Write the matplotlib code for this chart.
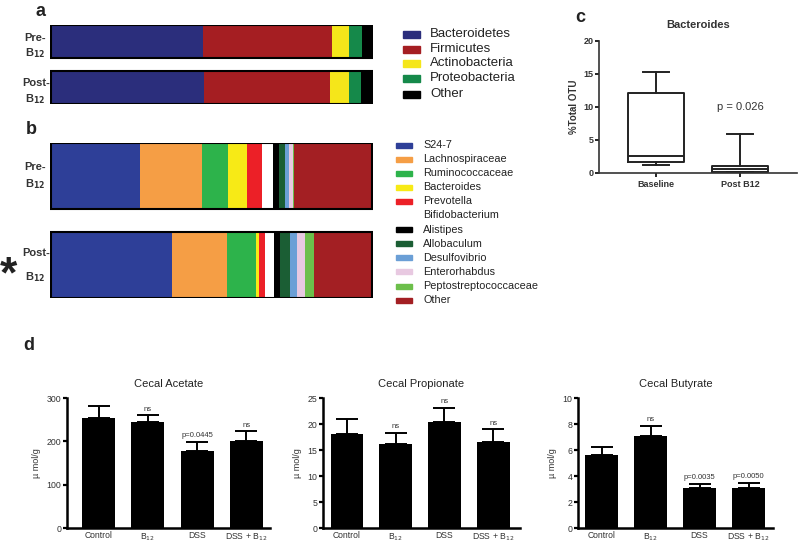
import matplotlib
matplotlib.use("Agg")
import matplotlib.pyplot as plt
from matplotlib.patches import Rectangle

plt.rcParams['font.family'] = ['Liberation Sans', 'DejaVu Sans']

# ---------------- data ----------------
phyla = ["Bacteroidetes", "Firmicutes", "Actinobacteria", "Proteobacteria", "Other"]
phyla_colors = ["#2b2e7c", "#a51e22", "#f5e61a", "#15894a", "#000000"]
phyla_pre = [47.4, 40.2, 5.0, 4.3, 3.1]
phyla_post = [47.7, 39.0, 5.9, 4.0, 3.4]

genera = ["S24-7", "Lachnospiraceae", "Ruminococcaceae", "Bacteroides", "Prevotella",
          "Bifidobacterium", "Alistipes", "Allobaculum", "Desulfovibrio", "Enterorhabdus",
          "Peptostreptococcaceae", "Other"]
genera_colors = ["#2e3f98", "#f59e45", "#2db34b", "#f7ea16", "#ec2027", "#ffffff",
                 "#000000", "#1b5e34", "#6b9fd6", "#e8c9e1", "#6cbf4b", "#a31f23"]
genera_pre = [27.9, 19.2, 8.0, 5.9, 4.6, 3.4, 1.9, 1.8, 1.3, 1.2, 0.4, 24.4]
genera_post = [37.8, 17.0, 8.9, 1.0, 1.8, 2.9, 1.8, 3.1, 2.4, 2.5, 2.6, 18.2]

box_groups = ["Baseline", "Post B12"]
box_stats = [
    dict(whislo=1.2, q1=1.6, med=2.5, q3=12.1, whishi=15.3),
    dict(whislo=0.1, q1=0.2, med=0.6, q3=1.1, whishi=5.9),
]
box_p = "p = 0.026"

groups = ["Control", "B$_{12}$", "DSS", "DSS + B$_{12}$"]
acetate = [253, 245, 177, 200]
acetate_err = [29, 15, 22, 23]
acetate_ann = ["", "ns", "p=0.0445", "ns"]
propionate = [18.0, 16.2, 20.3, 16.5]
propionate_err = [3.0, 2.1, 2.8, 2.5]
propionate_ann = ["", "ns", "ns", "ns"]
butyrate = [5.6, 7.1, 3.05, 3.05]
butyrate_err = [0.6, 0.75, 0.35, 0.45]
butyrate_ann = ["", "ns", "p=0.0035", "p=0.0050"]

W, H = 800, 544
fig = plt.figure(figsize=(8, 5.44), dpi=100)


def px_axes(x0, y0, x1, y1):
    return fig.add_axes([x0 / W, 1 - y1 / H, (x1 - x0) / W, (y1 - y0) / H])


def ftext(x, y, s, **kw):
    fig.text(x / W, 1 - y / H, s, **kw)


def stacked(ax, rows, colors, height):
    for i, vals in enumerate(rows):
        left = 0
        for v, c in zip(vals, colors):
            ax.barh(i, v, left=left, height=height, color=c, edgecolor='none')
            left += v
        ax.barh(i, left, height=height, fill=False, edgecolor='black', linewidth=1.5)
    ax.set_xlim(-0.2, 100.2)
    ax.axis('off')


# ---------------- panel a ----------------
ax_a = px_axes(50, 25, 373, 104)
stacked(ax_a, [phyla_pre, phyla_post], phyla_colors, 0.717)
ax_a.set_ylim(1.359, -0.359)

lab_kw = dict(fontsize=8, fontweight='bold', color='#333333', ha='left', va='center')
ftext(24, 38, "Pre-", **lab_kw)
ftext(25, 53, "B$_{\\mathbf{12}}$", **lab_kw)
ftext(22, 83, "Post-", **lab_kw)
ftext(25, 99, "B$_{\\mathbf{12}}$", **lab_kw)

leg_y = [34, 49, 63, 78, 94]
for name, c, y in zip(phyla, phyla_colors, leg_y):
    fig.patches.append(Rectangle((403 / W, 1 - (y + 3.5) / H), 17 / W, 7 / H,
                                 transform=fig.transFigure, color=c))
    ftext(430, y, name, fontsize=9.5, ha='left', va='center', color='#222222')

# ---------------- panel b ----------------
ax_b = px_axes(50, 143, 373, 298)
stacked(ax_b, [genera_pre, genera_post], genera_colors, 0.742)
ax_b.set_ylim(1.371, -0.371)

ftext(24, 167, "Pre-", **lab_kw)
ftext(25, 184, "B$_{\\mathbf{12}}$", **lab_kw)
ftext(22, 253, "Post-", **lab_kw)
ftext(25, 277, "B$_{\\mathbf{12}}$", **lab_kw)
ftext(8, 276, "*", fontsize=32, fontweight='bold', ha='center', va='center', color='#222222')

for k, (name, c) in enumerate(zip(genera, genera_colors)):
    y = 145 + k * 14.1
    fig.patches.append(Rectangle((396 / W, 1 - (y + 2.5) / H), 16 / W, 5 / H,
                                 transform=fig.transFigure, color=c))
    ftext(423, y, name, fontsize=7.8, ha='left', va='center', color='#222222')

# ---------------- panel c ----------------
ax_c = px_axes(599, 40.7, 797, 173)
ax_c.bxp(box_stats, positions=[1, 2], widths=0.667, capwidths=0.31, showfliers=False,
         boxprops=dict(color='#222222', linewidth=1.4),
         whiskerprops=dict(color='#222222', linewidth=1.4),
         capprops=dict(color='#222222', linewidth=1.4),
         medianprops=dict(color='#222222', linewidth=1.4))
ax_c.set_xlim(0.321, 2.679)
ax_c.set_ylim(0, 20)
ax_c.set_yticks([0, 5, 10, 15, 20])
ax_c.set_xticks([1, 2])
ax_c.set_xticklabels(box_groups, fontsize=6.5, fontweight='bold', color='#333333')
for lbl in ax_c.get_yticklabels():
    lbl.set_fontsize(6.5)
    lbl.set_fontweight('bold')
    lbl.set_color('#333333')
ax_c.tick_params(axis='y', length=3, width=1.2, pad=1)
ax_c.tick_params(axis='x', length=3, width=1.2, pad=2)
for s in ['top', 'right']:
    ax_c.spines[s].set_visible(False)
for s in ['left', 'bottom']:
    ax_c.spines[s].set_linewidth(1.2)
    ax_c.spines[s].set_color('#333333')
ax_c.set_ylabel("%Total OTU", fontsize=7, fontweight='bold', color='#333333', labelpad=3)
ax_c.set_title("Bacteroides", fontsize=8, fontweight='bold', color='#333333', pad=9)
ax_c.text(2, 10.0, box_p, fontsize=8, ha='center', va='center', color='#333333')

# ---------------- panel d ----------------
def barpanel(rect, xlim, vals, errs, anns, ymax, step, title, ann_off):
    ax = px_axes(*rect)
    xs = list(range(len(vals)))
    ax.bar(xs, vals, width=0.67, color='black')
    ax.errorbar(xs, vals, yerr=[[0] * len(vals), errs], fmt='none', ecolor='black',
                elinewidth=1.4, capsize=8, capthick=1.4)
    for x, v, e, a in zip(xs, vals, errs, anns):
        if a:
            ax.text(x, v + e + ann_off, a, fontsize=5.5, ha='center', va='bottom', color='#333333')
    ax.set_xlim(*xlim)
    ax.set_ylim(0, ymax)
    ax.set_yticks([step * i for i in range(int(round(ymax / step)) + 1)])
    ax.set_xticks(xs)
    ax.set_xticklabels(groups, fontsize=6.2, color='#333333')
    for lbl in ax.get_yticklabels():
        lbl.set_fontsize(6.3)
        lbl.set_color('#333333')
    ax.tick_params(axis='y', length=3, width=1.6, pad=1)
    ax.tick_params(axis='x', length=0, pad=2.5)
    for s in ['top', 'right']:
        ax.spines[s].set_visible(False)
    for s in ['left', 'bottom']:
        ax.spines[s].set_linewidth(1.8)
    ax.set_ylabel("\u00b5 mol/g", fontsize=6.5, color='#333333', labelpad=4)
    ax.set_title(title, fontsize=8, color='#222222', pad=8)
    return ax


barpanel((67, 398, 270, 528), (-0.64, 3.48), acetate, acetate_err, acetate_ann,
         300, 100, "Cecal Acetate", 6)
barpanel((323, 398, 520, 528), (-0.49, 3.55), propionate, propionate_err, propionate_ann,
         25, 5, "Cecal Propionate", 0.5)
barpanel((578, 398, 773, 528), (-0.48, 3.5), butyrate, butyrate_err, butyrate_ann,
         10, 2, "Cecal Butyrate", 0.2)

# panel letters
let_kw = dict(fontsize=13, fontweight='bold', color='#222222', ha='center', va='center')
ftext(41, 11, "a", **let_kw)
ftext(31, 130, "b", **let_kw)
ftext(580, 17, "c", **let_kw)
ftext(29, 345, "d", **let_kw)

fig.savefig("out.png", dpi=100)
